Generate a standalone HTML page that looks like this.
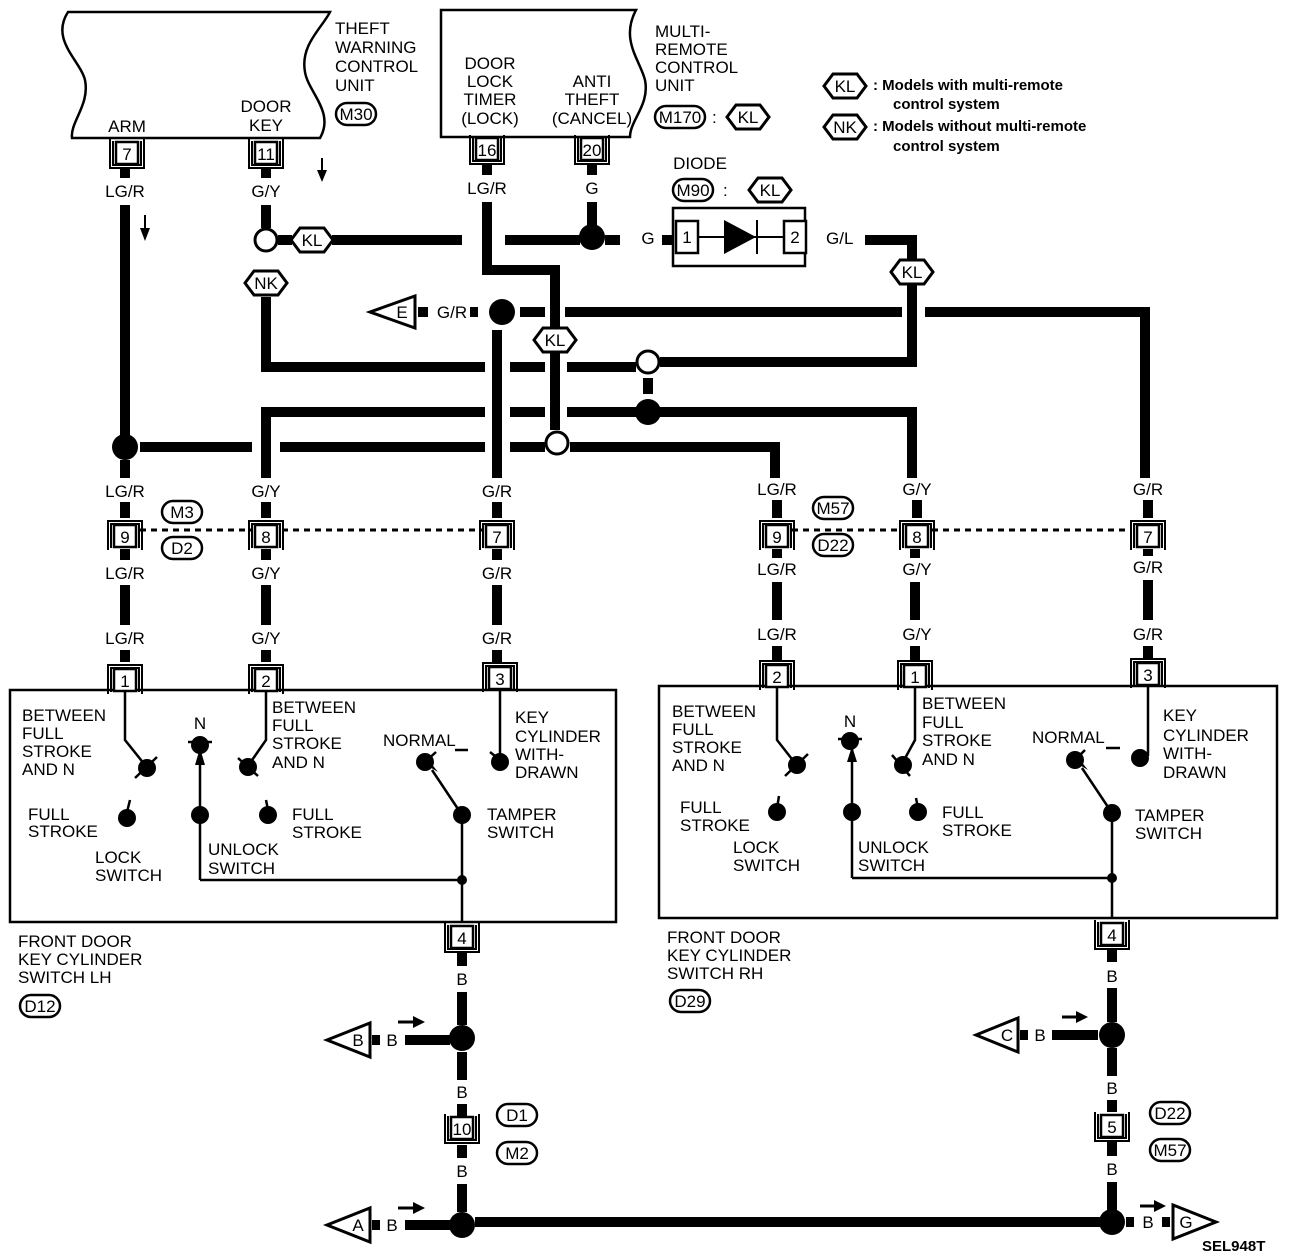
<!DOCTYPE html>
<html><head><meta charset="utf-8"><style>
html,body{margin:0;padding:0;background:#fff}
svg{display:block}
text{font-family:"Liberation Sans",sans-serif;font-size:17px;fill:#000}
.c{text-anchor:middle}
.s{font-size:15px;font-weight:bold}
</style></head><body>
<svg width="1296" height="1256" viewBox="0 0 1296 1256" xmlns="http://www.w3.org/2000/svg">
<defs>
<g id="cu"><rect x="-11" y="-11" width="22" height="22" fill="#fff" stroke="#000" stroke-width="2.5"/><path d="M-17,-14 V15 H17 V-14 M-14,-12 V12 H14 V-12" fill="none" stroke="#000" stroke-width="2"/></g>
<g id="cd"><rect x="-11" y="-11" width="22" height="22" fill="#fff" stroke="#000" stroke-width="2.5"/><path d="M-17,14 V-15 H17 V14 M-14,12 V-12 H14 V12" fill="none" stroke="#000" stroke-width="2"/></g>
<polygon id="hx" points="-21,0 -12,-12 12,-12 21,0 12,12 -12,12" fill="#fff" stroke="#000" stroke-width="3"/>
<rect id="ov" x="-20" y="-11" width="40" height="22" rx="11" fill="#fff" stroke="#000" stroke-width="2.5"/>
</defs>

<path d="M68,12 C50,40 80,60 85,80 C90,105 70,122 72,138 L320,138 C335,112 308,92 305,72 C300,45 322,28 330,12 Z" fill="#fff" stroke="#000" stroke-width="2.5"/>
<path d="M441,137 V10 H636 C620,40 640,60 645,80 C650,105 630,120 630,137 Z" fill="#fff" stroke="#000" stroke-width="2.5"/>
<text x="335" y="34">THEFT</text><text x="335" y="53">WARNING</text><text x="335" y="72">CONTROL</text><text x="335" y="91">UNIT</text>
<use href="#ov" x="356" y="114"/><text x="356" y="120" class="c">M30</text>
<text x="127" y="132" class="c">ARM</text>
<text x="266" y="112" class="c">DOOR</text><text x="266" y="131" class="c">KEY</text>
<text x="490" y="69" class="c">DOOR</text><text x="490" y="87" class="c">LOCK</text><text x="490" y="105" class="c">TIMER</text><text x="490" y="124" class="c">(LOCK)</text>
<text x="592" y="87" class="c">ANTI</text><text x="592" y="105" class="c">THEFT</text><text x="592" y="124" class="c">(CANCEL)</text>
<text x="655" y="37">MULTI-</text><text x="655" y="55">REMOTE</text><text x="655" y="73">CONTROL</text><text x="655" y="91">UNIT</text>
<rect x="655" y="106" width="50" height="22" rx="11" fill="#fff" stroke="#000" stroke-width="2.5"/><text x="680" y="123" class="c" font-size="15">M170</text><text x="712" y="123">:</text>
<use href="#hx" x="748" y="117"/><text x="748" y="123" class="c">KL</text>
<use href="#hx" x="845" y="86"/><text x="845" y="92" class="c">KL</text>
<text x="873" y="90" class="s">: Models with multi-remote</text><text x="893" y="109" class="s">control system</text>
<use href="#hx" x="845" y="127"/><text x="845" y="133" class="c">NK</text>
<text x="873" y="131" class="s">: Models without multi-remote</text><text x="893" y="151" class="s">control system</text>

<use href="#cu" x="127" y="153"/><text x="127" y="160" class="c" font-size="15">7</text>
<use href="#cu" x="266" y="153"/><text x="266" y="160" class="c" font-size="15">11</text>
<use href="#cu" x="487" y="149"/><text x="487" y="156" class="c" font-size="15">16</text>
<use href="#cu" x="592" y="149"/><text x="592" y="156" class="c" font-size="15">20</text>

<path d="M322,158 V172" stroke="#000" stroke-width="2"/><polygon points="317,170 327,170 322,182" />
<path d="M145,215 V230" stroke="#000" stroke-width="2"/><polygon points="140,228 150,228 145,241"/>

<g stroke="#000" stroke-width="10" fill="none">
<path d="M125,168 V178 M125,205 V435 M125,460 V478 M125,502 V518 M125,549 V560 M125,585 V625 M125,650 V662"/>
<path d="M266,168 V178 M266,205 V228 M266,297 V367 H485 M510,367 H545 M567,367 H636"/>
<path d="M660,362 H912 V284 M912,260 V240 H865"/>
<path d="M648,378 V394"/>
<path d="M266,478 V412 H485 M510,412 H545 M567,412 H636 M660,412 H912 V478"/>
<path d="M266,502 V518 M266,549 V560 M266,585 V625 M266,650 V662"/>
<path d="M140,447 H252 M280,447 H485 M510,447 H545 M570,447 H775 V478"/>
<path d="M278,240 H292 M332,240 H462 M505,240 H580 M605,240 H620 M662,240 H674"/>
<path d="M592,165 V175 M592,202 V225"/>
<path d="M487,165 V175 M487,202 V270 H555 V327 M555,353 V430"/>
<path d="M418,312 H428 M470,312 H478 M520,312 H545 M565,312 H902 M925,312 H1145 V478"/>
<path d="M497,330 V478 M497,502 V518 M497,549 V560 M497,585 V625 M497,650 V662"/>
<path d="M777,500 V518 M917,500 V518 M1148,500 V518"/>
<path d="M777,549 V558 M777,582 V620 M777,646 V660"/>
<path d="M915,549 V558 M915,582 V620 M915,646 V660"/>
<path d="M1148,549 V556 M1148,580 V620 M1148,646 V658"/>
<path d="M462,952 V966 M462,992 V1025 M462,1052 V1080 M462,1104 V1116 M462,1145 V1158 M462,1184 V1212 M475,1222 H1100"/>
<path d="M372,1040 H380 M405,1040 H450 M372,1225 H380 M405,1225 H450"/>
<path d="M1112,950 V962 M1112,988 V1022 M1112,1048 V1076 M1112,1100 V1112 M1112,1142 V1156 M1112,1182 V1210"/>
<path d="M1020,1035 H1028 M1052,1035 H1098 M1126,1222 H1134 M1162,1222 H1170"/>
</g>

<text x="125" y="197" class="c">LG/R</text><text x="266" y="197" class="c">G/Y</text>
<text x="487" y="194" class="c">LG/R</text><text x="592" y="194" class="c">G</text>
<text x="648" y="244" class="c">G</text><text x="826" y="244">G/L</text>
<text x="452" y="318" class="c">G/R</text>
<text x="125" y="497" class="c">LG/R</text><text x="266" y="497" class="c">G/Y</text><text x="497" y="497" class="c">G/R</text>
<text x="125" y="579" class="c">LG/R</text><text x="266" y="579" class="c">G/Y</text><text x="497" y="579" class="c">G/R</text>
<text x="125" y="644" class="c">LG/R</text><text x="266" y="644" class="c">G/Y</text><text x="497" y="644" class="c">G/R</text>
<text x="777" y="495" class="c">LG/R</text><text x="917" y="495" class="c">G/Y</text><text x="1148" y="495" class="c">G/R</text>
<text x="777" y="575" class="c">LG/R</text><text x="917" y="575" class="c">G/Y</text><text x="1148" y="573" class="c">G/R</text>
<text x="777" y="640" class="c">LG/R</text><text x="917" y="640" class="c">G/Y</text><text x="1148" y="640" class="c">G/R</text>
<text x="462" y="985" class="c">B</text><text x="462" y="1098" class="c">B</text><text x="462" y="1177" class="c">B</text>
<text x="1112" y="982" class="c">B</text><text x="1112" y="1094" class="c">B</text><text x="1112" y="1175" class="c">B</text>
<text x="392" y="1046" class="c">B</text><text x="392" y="1231" class="c">B</text>
<text x="1040" y="1041" class="c">B</text><text x="1148" y="1228" class="c">B</text>

<circle cx="266" cy="240" r="11" fill="#fff" stroke="#000" stroke-width="3"/>
<circle cx="648" cy="362" r="11" fill="#fff" stroke="#000" stroke-width="3"/>
<circle cx="557" cy="443" r="11" fill="#fff" stroke="#000" stroke-width="3"/>
<circle cx="592" cy="237" r="13"/>
<circle cx="502" cy="312" r="13"/>
<circle cx="648" cy="412" r="13"/>
<circle cx="125" cy="447" r="13"/>
<circle cx="462" cy="1038" r="13"/>
<circle cx="462" cy="1225" r="13"/>
<circle cx="1112" cy="1035" r="13"/>
<circle cx="1112" cy="1222" r="13"/>

<use href="#hx" x="312" y="240"/><text x="312" y="246" class="c">KL</text>
<use href="#hx" x="266" y="283"/><text x="266" y="289" class="c">NK</text>
<use href="#hx" x="555" y="340"/><text x="555" y="346" class="c">KL</text>
<use href="#hx" x="912" y="272"/><text x="912" y="278" class="c">KL</text>

<polygon points="370,312 415,296 415,328" fill="#fff" stroke="#000" stroke-width="3"/><text x="402" y="318" class="c">E</text>

<text x="700" y="169" class="c">DIODE</text>
<use href="#ov" x="693" y="190"/><text x="693" y="196" class="c">M90</text><text x="723" y="196">:</text>
<use href="#hx" x="770" y="190"/><text x="770" y="196" class="c">KL</text>
<rect x="673" y="208" width="132" height="58" fill="#fff" stroke="#000" stroke-width="2.5"/>
<rect x="676" y="221" width="22" height="32" fill="#fff" stroke="#000" stroke-width="2.5"/><text x="687" y="243" class="c" font-size="15">1</text>
<rect x="784" y="221" width="22" height="32" fill="#fff" stroke="#000" stroke-width="2.5"/><text x="795" y="243" class="c" font-size="15">2</text>
<path d="M698,237 H784 M757,220 V254" stroke="#000" stroke-width="2"/>
<polygon points="724,220 724,254 756,237"/>

<path d="M140,530 H252 M282,530 H482 M792,530 H902 M932,530 H1132" stroke="#000" stroke-width="3" stroke-dasharray="6,5"/>
<use href="#cd" x="125" y="536"/><text x="125" y="543" class="c" font-size="15">9</text>
<use href="#cd" x="266" y="536"/><text x="266" y="543" class="c" font-size="15">8</text>
<use href="#cd" x="497" y="536"/><text x="497" y="543" class="c" font-size="15">7</text>
<use href="#ov" x="182" y="512"/><text x="182" y="518" class="c">M3</text>
<use href="#ov" x="182" y="548"/><text x="182" y="554" class="c">D2</text>
<use href="#cd" x="777" y="536"/><text x="777" y="543" class="c" font-size="15">9</text>
<use href="#cd" x="917" y="536"/><text x="917" y="543" class="c" font-size="15">8</text>
<use href="#cd" x="1148" y="536"/><text x="1148" y="543" class="c" font-size="15">7</text>
<use href="#ov" x="833" y="508"/><text x="833" y="514" class="c">M57</text>
<use href="#ov" x="833" y="545"/><text x="833" y="551" class="c">D22</text>

<rect x="10" y="690" width="606" height="232" fill="none" stroke="#000" stroke-width="2.5"/>
<use href="#cd" x="125" y="680"/><text x="125" y="687" class="c" font-size="15">1</text>
<use href="#cd" x="266" y="680"/><text x="266" y="687" class="c" font-size="15">2</text>
<use href="#cd" x="500" y="678"/><text x="500" y="685" class="c" font-size="15">3</text>
<g stroke="#000" stroke-width="2.5" fill="none">
<path d="M125,690 V740 L145,765 M135,778 L157,757 M266,690 V740 L250,763 M238,758 L258,776 M188,742 L212,742"/>
<path d="M127,812 L130,800 M268,810 L266,800"/>
<path d="M500,690 V760 M490,752 L500,760 M455,750 H468 M425,762 L436,752"/>
<path d="M200,880 V752 M200,880 H462 M462,815 V922 M462,815 L432,770"/>
</g>
<polygon points="195,765 205,765 200,748"/><polygon points="428,766 438,772 426,757"/>
<circle cx="147" cy="768" r="9"/><circle cx="200" cy="745" r="9"/><circle cx="248" cy="767" r="9"/>
<circle cx="127" cy="818" r="9"/><circle cx="200" cy="815" r="9"/><circle cx="268" cy="815" r="9"/>
<circle cx="425" cy="762" r="9"/><circle cx="500" cy="762" r="9"/><circle cx="462" cy="815" r="9"/><circle cx="462" cy="880" r="5"/>
<text x="22" y="721">BETWEEN</text><text x="22" y="739">FULL</text><text x="22" y="757">STROKE</text><text x="22" y="775">AND N</text>
<text x="200" y="729" class="c">N</text>
<text x="272" y="713">BETWEEN</text><text x="272" y="731">FULL</text><text x="272" y="749">STROKE</text><text x="272" y="768">AND N</text>
<text x="28" y="820">FULL</text><text x="28" y="837">STROKE</text>
<text x="292" y="820">FULL</text><text x="292" y="838">STROKE</text>
<text x="95" y="863">LOCK</text><text x="95" y="881">SWITCH</text>
<text x="208" y="855">UNLOCK</text><text x="208" y="874">SWITCH</text>
<text x="383" y="746">NORMAL</text>
<text x="515" y="723">KEY</text><text x="515" y="742">CYLINDER</text><text x="515" y="760">WITH-</text><text x="515" y="778">DRAWN</text>
<text x="487" y="820">TAMPER</text><text x="487" y="838">SWITCH</text>
<use href="#cu" x="462" y="937"/><text x="462" y="944" class="c" font-size="15">4</text>
<text x="18" y="947">FRONT DOOR</text><text x="18" y="965">KEY CYLINDER</text><text x="18" y="983">SWITCH LH</text>
<use href="#ov" x="40" y="1006"/><text x="40" y="1012" class="c">D12</text>

<rect x="659" y="686" width="618" height="232" fill="none" stroke="#000" stroke-width="2.5"/>
<use href="#cd" x="777" y="676"/><text x="777" y="683" class="c" font-size="15">2</text>
<use href="#cd" x="915" y="676"/><text x="915" y="683" class="c" font-size="15">1</text>
<use href="#cd" x="1148" y="674"/><text x="1148" y="681" class="c" font-size="15">3</text>
<g stroke="#000" stroke-width="2.5" fill="none">
<path d="M777,686 V740 L795,763 M785,776 L808,754 M915,686 V740 L903,762 M892,755 L910,776 M838,739 L862,739"/>
<path d="M777,808 L779,796 M918,808 L916,798"/>
<path d="M1148,686 V756 M1138,750 L1148,756 M1106,748 H1120 M1075,760 L1085,750"/>
<path d="M852,878 V748 M852,878 H1112 M1112,813 V918 M1112,813 L1082,768"/>
</g>
<polygon points="847,762 857,762 852,746"/><polygon points="1078,764 1088,770 1076,755"/>
<circle cx="797" cy="765" r="9"/><circle cx="850" cy="741" r="9"/><circle cx="903" cy="765" r="9"/>
<circle cx="777" cy="812" r="9"/><circle cx="852" cy="812" r="9"/><circle cx="918" cy="812" r="9"/>
<circle cx="1075" cy="760" r="9"/><circle cx="1140" cy="758" r="9"/><circle cx="1112" cy="813" r="9"/><circle cx="1112" cy="878" r="5"/>
<text x="672" y="717">BETWEEN</text><text x="672" y="735">FULL</text><text x="672" y="753">STROKE</text><text x="672" y="771">AND N</text>
<text x="850" y="727" class="c">N</text>
<text x="922" y="709">BETWEEN</text><text x="922" y="728">FULL</text><text x="922" y="746">STROKE</text><text x="922" y="765">AND N</text>
<text x="680" y="813">FULL</text><text x="680" y="831">STROKE</text>
<text x="942" y="818">FULL</text><text x="942" y="836">STROKE</text>
<text x="733" y="853">LOCK</text><text x="733" y="871">SWITCH</text>
<text x="858" y="853">UNLOCK</text><text x="858" y="871">SWITCH</text>
<text x="1032" y="743">NORMAL</text>
<text x="1163" y="721">KEY</text><text x="1163" y="741">CYLINDER</text><text x="1163" y="759">WITH-</text><text x="1163" y="778">DRAWN</text>
<text x="1135" y="821">TAMPER</text><text x="1135" y="839">SWITCH</text>
<use href="#cu" x="1112" y="934"/><text x="1112" y="941" class="c" font-size="15">4</text>
<text x="667" y="943">FRONT DOOR</text><text x="667" y="961">KEY CYLINDER</text><text x="667" y="979">SWITCH RH</text>
<use href="#ov" x="690" y="1001"/><text x="690" y="1007" class="c">D29</text>

<use href="#cu" x="462" y="1128"/><text x="462" y="1135" class="c" font-size="15">10</text>
<use href="#ov" x="517" y="1115"/><text x="517" y="1121" class="c">D1</text>
<use href="#ov" x="517" y="1153"/><text x="517" y="1159" class="c">M2</text>
<use href="#cu" x="1112" y="1126"/><text x="1112" y="1133" class="c" font-size="15">5</text>
<use href="#ov" x="1170" y="1113"/><text x="1170" y="1119" class="c">D22</text>
<use href="#ov" x="1170" y="1150"/><text x="1170" y="1156" class="c">M57</text>
<polygon points="327,1040 370,1023 370,1057" fill="#fff" stroke="#000" stroke-width="3"/><text x="358" y="1046" class="c">B</text>
<polygon points="327,1225 370,1208 370,1242" fill="#fff" stroke="#000" stroke-width="3"/><text x="358" y="1231" class="c">A</text>
<polygon points="976,1035 1018,1018 1018,1052" fill="#fff" stroke="#000" stroke-width="3"/><text x="1007" y="1041" class="c">C</text>
<polygon points="1216,1222 1173,1205 1173,1239" fill="#fff" stroke="#000" stroke-width="3"/><text x="1186" y="1228" class="c">G</text>
<g stroke="#000" stroke-width="3"><path d="M398,1022 H415 M398,1208 H415 M1062,1017 H1078 M1140,1206 H1156"/></g>
<polygon points="413,1016 425,1022 413,1028"/><polygon points="413,1202 425,1208 413,1214"/>
<polygon points="1076,1011 1088,1017 1076,1023"/><polygon points="1154,1200 1166,1206 1154,1212"/>
<text x="1202" y="1251" class="s">SEL948T</text>
</svg>
</body></html>
